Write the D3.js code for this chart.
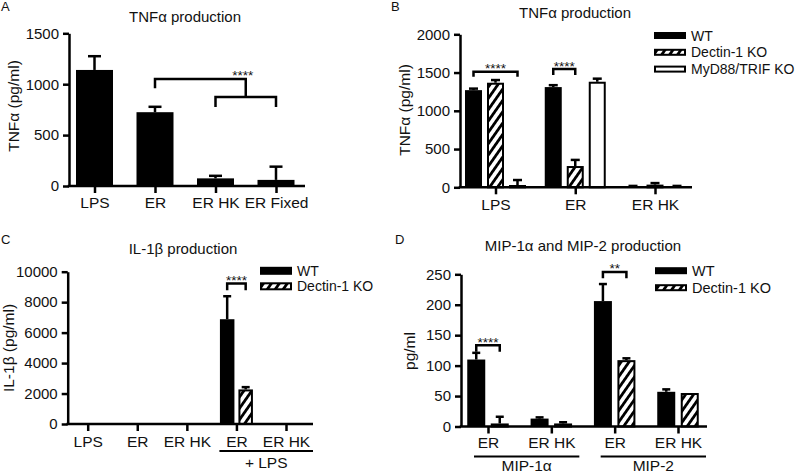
<!DOCTYPE html>
<html><head><meta charset="utf-8">
<script src="https://cdn.jsdelivr.net/npm/d3@7"></script>
<style>
body{margin:0;background:#fff}
svg{display:block}
text{font-family:"Liberation Sans",Arial,sans-serif;fill:#111}
</style>
</head><body>
<svg id="c" width="800" height="474"></svg>
<script>
// ---------- DATA ----------
// Panel A
const catsA = ["LPS", "ER", "ER HK", "ER Fixed"];
const tnfA = [1140, 725, 75, 60];
const tnfAErr = [135, 53, 25, 130];
const ticksA = [0, 500, 1000, 1500];

// Panel B
const catsB = ["LPS", "ER", "ER HK"];
const seriesB = ["WT", "Dectin-1 KO", "MyD88/TRIF KO"];
const tnfBWT = [1270, 1310, 12];
const tnfBWTErr = [20, 25, 6];
const tnfBDectin = [1367, 278, 35];
const tnfBDectinErr = [35, 80, 20];
const tnfBMyD = [30, 1380, 12];
const tnfBMyDErr = [65, 40, 6];
const ticksB = [0, 500, 1000, 1500, 2000];

// Panel C
const catsC = ["LPS", "ER", "ER HK", "ER", "ER HK"];
const seriesC = ["WT", "Dectin-1 KO"];
const il1bWT = [25, 0, 0, 6880, 60];
const il1bWTErr = [0, 0, 0, 1510, 0];
const il1bDectin = [15, 0, 0, 2270, 40];
const il1bDectinErr = [0, 0, 0, 150, 0];
const ticksC = [0, 2000, 4000, 6000, 8000, 10000];
const groupsC = [{label: "+ LPS", from: 3, to: 4}];

// Panel D
const catsD = ["ER", "ER HK", "ER", "ER HK"];
const seriesD = ["WT", "Dectin-1 KO"];
const mipWT = [110, 13, 206, 57];
const mipWTErr = [11, 2, 28, 4];
const mipDectin = [5, 5, 109, 55];
const mipDectinErr = [11, 2, 3, 0];
const ticksD = [0, 50, 100, 150, 200, 250];
const groupsD = [{label: "MIP-1α", from: 0, to: 1}, {label: "MIP-2", from: 2, to: 3}];

// significance annotations (category index, series indices, bracket value, leg value)
const sigB = [{cat: 0, s1: 0, s2: 2, y: 1511, leg: 1446, label: "****"},
              {cat: 1, s1: 0, s2: 1, y: 1546, leg: 1468, label: "****"}];
const sigC = [{cat: 3, s1: 0, s2: 1, y: 9226, leg: 8790, label: "****"}];
const sigD = [{cat: 0, s1: 0, s2: 1, y: 133.6, leg: 122.6, label: "****"},
              {cat: 2, s1: 0, s2: 1, y: 253.8, leg: 243.4, label: "**"}];
const sigA = {from: 1, mids: [2, 3], y: 1050, leg: 960, lowY: 875, lowLeg: 777, label: "****"};

// ---------- DRAWING ----------
const svg = d3.select("#c");
const defs = svg.append("defs");
const pat = defs.append("pattern").attr("id", "hatch")
  .attr("patternUnits", "userSpaceOnUse").attr("width", 6.5).attr("height", 10)
  .attr("patternTransform", "rotate(35)");
pat.append("rect").attr("width", 6.5).attr("height", 10).attr("fill", "#fff");
pat.append("rect").attr("width", 2.8).attr("height", 10).attr("fill", "#000");

const FILLS = ["#000", "url(#hatch)", "#fff"];
const FS = 15;
const FONT = "Liberation Sans, Arial, sans-serif";

function panel(cfg) {
  const g = svg.append("g");
  const y = d3.scaleLinear().domain([0, d3.max(cfg.ticks)]).range([cfg.yBase, cfg.yTop]);
  const x = d3.scalePoint().domain(d3.range(cfg.cats.length)).range(cfg.xRange);
  const k = cfg.series.length;
  const sx = (c, s) => x(c) + (s - (k - 1) / 2) * cfg.offset;

  // bars + error bars
  cfg.series.forEach((ser, s) => {
    const data = ser.vals.map((v, i) => ({i, v, e: ser.errs[i]}));
    const eg = g.append("g");
    data.filter(d => d.e > 0).forEach(d => {
      const cx = sx(d.i, s);
      eg.append("line").attr("x1", cx).attr("x2", cx).attr("y1", y(d.v)).attr("y2", y(d.v + d.e))
        .attr("stroke", "#000").attr("stroke-width", 2.5);
      eg.append("line").attr("x1", cx - cfg.capW / 2).attr("x2", cx + cfg.capW / 2)
        .attr("y1", y(d.v + d.e)).attr("y2", y(d.v + d.e))
        .attr("stroke", "#000").attr("stroke-width", 2.5);
    });
    const outlined = FILLS[s] !== "#000";
    g.append("g").selectAll("rect").data(data.filter(d => d.v > 0)).join("rect")
      .attr("x", d => sx(d.i, s) - cfg.barW / 2 + (outlined ? 1 : 0))
      .attr("width", cfg.barW - (outlined ? 2 : 0))
      .attr("y", d => y(d.v) + (outlined ? 1 : 0))
      .attr("height", d => Math.max(0, cfg.yBase - y(d.v) - (outlined ? 1 : 0)))
      .attr("fill", FILLS[s])
      .attr("stroke", outlined ? "#000" : "none").attr("stroke-width", 2);
  });

  // y axis
  const ya = g.append("g").attr("transform", `translate(${cfg.x0},0)`)
    .call(d3.axisLeft(y).tickValues(cfg.ticks).tickFormat(d3.format("d"))
      .tickSize(6).tickPadding(4).tickSizeOuter(0));
  ya.select(".domain").attr("stroke-width", 2.5);
  ya.selectAll(".tick line").attr("stroke-width", 2.5);
  ya.selectAll("text").attr("font-size", FS).attr("font-family", FONT).attr("fill", "#111");

  // x axis
  const xa = g.append("g").attr("transform", `translate(0,${cfg.yBase})`)
    .call(d3.axisBottom(x).tickSize(7).tickPadding(4).tickFormat(i => cfg.cats[i]));
  xa.select(".domain").remove();
  xa.selectAll(".tick line").attr("stroke-width", 2.5);
  xa.selectAll("text").attr("font-size", FS + 0.5).attr("font-family", FONT)
    .attr("fill", "#111").attr("dy", null).attr("y", cfg.catLabelDy);
  g.append("line").attr("x1", cfg.x0 - 1.25).attr("x2", cfg.xEnd).attr("y1", cfg.yBase).attr("y2", cfg.yBase)
    .attr("stroke", "#000").attr("stroke-width", 2.5);

  // group underlines
  (cfg.groups || []).forEach(gr => {
    const x1 = x(gr.from) - cfg.grpL, x2 = x(gr.to) + cfg.grpR;
    g.append("line").attr("x1", x1).attr("x2", x2).attr("y1", cfg.yBase + cfg.grpLineDy).attr("y2", cfg.yBase + cfg.grpLineDy)
      .attr("stroke", "#000").attr("stroke-width", 2);
    g.append("text").attr("x", (x1 + x2) / 2).attr("y", cfg.yBase + cfg.grpTextDy)
      .attr("text-anchor", "middle").attr("font-size", FS + 0.5).text(gr.label);
  });

  // significance brackets
  (cfg.sig || []).forEach(sg => {
    const a = sx(sg.cat, sg.s1), b = sx(sg.cat, sg.s2);
    g.append("path").attr("d", `M${a},${y(sg.leg)}V${y(sg.y)}H${b}V${y(sg.leg)}`)
      .attr("fill", "none").attr("stroke", "#000").attr("stroke-width", 2.5);
    g.append("text").attr("x", (a + b) / 2).attr("y", y(sg.y) + 1.5).attr("text-anchor", "middle")
      .attr("font-size", 13.5).text(sg.label);
  });

  // title, panel letter, y label
  g.append("text").attr("x", cfg.titleX).attr("y", cfg.titleY).attr("text-anchor", "middle")
    .attr("font-size", FS).text(cfg.title);
  g.append("text").attr("x", cfg.letterX).attr("y", cfg.letterY).attr("font-size", 13).text(cfg.letter);
  g.append("text").attr("transform", `translate(${cfg.yLabX},${cfg.yLabY}) rotate(-90)`)
    .attr("text-anchor", "middle").attr("font-size", 15.5).text(cfg.yLabel);

  // legend
  if (cfg.legend) {
    cfg.legend.forEach((name, s) => {
      const ly = cfg.legY + s * cfg.legStep;
      const outlined = FILLS[s] !== "#000";
      g.append("rect").attr("x", cfg.legX + (outlined ? 1 : 0)).attr("y", ly - cfg.legH / 2 + (outlined ? 1 : 0))
        .attr("width", 32 - (outlined ? 2 : 0)).attr("height", cfg.legH - (outlined ? 2 : 0))
        .attr("fill", FILLS[s]).attr("stroke", outlined ? "#000" : "none").attr("stroke-width", 2);
      g.append("text").attr("x", cfg.legX + 37).attr("y", ly + 5).attr("font-size", cfg.legFS).text(name);
    });
  }
  return {g, x, y, sx};
}

// Panel A
const pA = panel({
  cats: catsA, series: [{vals: tnfA, errs: tnfAErr}], ticks: ticksA,
  x0: 69, yTop: 33.3, yBase: 186, xRange: [94.5, 276], xEnd: 305,
  barW: 37, offset: 0, capW: 13, catLabelDy: 22,
  title: "TNFα production", titleX: 185, titleY: 22,
  letter: "A", letterX: 1, letterY: 11, yLabel: "TNFα (pg/ml)", yLabX: 19, yLabY: 106
});
{
  const {g, x, y} = pA;
  const a = x(sigA.from), m1 = x(sigA.mids[0]), m2 = x(sigA.mids[1]), mid = (m1 + m2) / 2;
  g.append("path").attr("d", `M${a},${y(sigA.leg)}V${y(sigA.y)}H${mid}V${y(sigA.lowY)}`)
    .attr("fill", "none").attr("stroke", "#000").attr("stroke-width", 2.5);
  g.append("path").attr("d", `M${m1},${y(sigA.lowLeg)}V${y(sigA.lowY)}H${m2}V${y(sigA.lowLeg)}`)
    .attr("fill", "none").attr("stroke", "#000").attr("stroke-width", 2.5);
  g.append("text").attr("x", mid - 3).attr("y", y(sigA.y) + 0.5).attr("text-anchor", "middle")
    .attr("font-size", 13.5).text(sigA.label);
}

// Panel B
panel({
  cats: catsB, series: [{vals: tnfBWT, errs: tnfBWTErr}, {vals: tnfBDectin, errs: tnfBDectinErr}, {vals: tnfBMyD, errs: tnfBMyDErr}],
  ticks: ticksB, x0: 460, yTop: 34.3, yBase: 187.3, xRange: [495.5, 655], xEnd: 692,
  barW: 17, offset: 22, capW: 9, catLabelDy: 23, sig: sigB,
  title: "TNFα production", titleX: 575, titleY: 18,
  letter: "B", letterX: 391, letterY: 11, yLabel: "TNFα (pg/ml)", yLabX: 410, yLabY: 110,
  legend: seriesB, legX: 654, legY: 35.5, legStep: 16.8, legH: 7, legFS: 14
});

// Panel C
panel({
  cats: catsC, series: [{vals: il1bWT, errs: il1bWTErr}, {vals: il1bDectin, errs: il1bDectinErr}],
  ticks: ticksC, x0: 67.7, yTop: 271.7, yBase: 424, xRange: [87.7, 286], xEnd: 313,
  barW: 14.5, offset: 18.5, capW: 8, catLabelDy: 23, sig: sigC,
  groups: groupsC, grpL: 17, grpR: 27, grpLineDy: 27, grpTextDy: 44,
  title: "IL-1β production", titleX: 183, titleY: 254,
  letter: "C", letterX: 1, letterY: 244, yLabel: "IL-1β (pg/ml)", yLabX: 14, yLabY: 348,
  legend: seriesC, legX: 260, legY: 270.8, legStep: 15.5, legH: 8, legFS: 14
});

// Panel D
panel({
  cats: catsD, series: [{vals: mipWT, errs: mipWTErr}, {vals: mipDectin, errs: mipDectinErr}],
  ticks: ticksD, x0: 461, yTop: 274.3, yBase: 426.5, xRange: [488, 678], xEnd: 707,
  barW: 18, offset: 23.5, capW: 8, catLabelDy: 21.5, sig: sigD,
  groups: groupsD, grpL: 14, grpR: 28, grpLineDy: 30, grpTextDy: 44.5,
  title: "MIP-1α and MIP-2 production", titleX: 583, titleY: 251,
  letter: "D", letterX: 395, letterY: 244, yLabel: "pg/ml", yLabX: 415, yLabY: 351,
  legend: seriesD, legX: 655, legY: 270.7, legStep: 17, legH: 7, legFS: 14.5
});
</script>
</body></html>
